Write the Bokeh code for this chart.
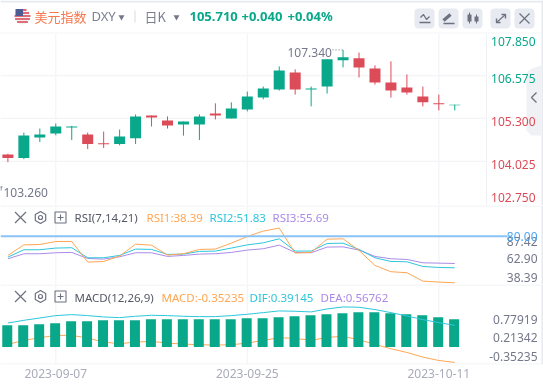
from bokeh.plotting import figure
from bokeh.layouts import column
from bokeh.models import Range1d, FixedTicker, InlineStyleSheet
from bokeh.core.properties import value
from bokeh.embed import file_html
from bokeh.resources import INLINE

dates = ["2023-09-07", "2023-09-25", "2023-10-11"]
date_idx = [3, 15, 27]

opens  = [104.23,104.12,104.73,104.85,105.03,104.82,104.56,104.54,104.71,105.39,105.24,105.12,105.12,105.45,105.30,105.57,105.92,106.16,106.67,106.16,106.25,107.03,107.09,106.79,106.37,106.22,105.95,105.75,105.69]
closes = [104.12,104.79,104.82,105.06,105.06,104.54,104.53,104.76,105.36,105.33,105.09,105.21,105.36,105.39,105.60,105.95,106.19,106.73,106.16,106.19,107.06,107.12,106.82,106.37,106.13,106.07,105.78,105.72,105.71]
highs  = [104.25,104.88,105.00,105.15,105.08,104.88,104.91,104.97,105.42,105.39,105.36,105.21,105.42,105.75,105.78,106.10,106.25,106.85,106.76,106.25,107.06,107.34,107.26,106.88,107.00,106.61,106.25,106.01,105.71]
lows   = [104.00,104.09,104.60,104.80,104.66,104.39,104.42,104.50,104.54,105.06,105.00,104.79,104.66,105.27,105.30,105.51,105.87,106.13,106.01,105.66,106.04,106.82,106.52,106.31,105.92,106.01,105.66,105.54,105.54]

rsi1 = [62.9,72.4,72.7,75.4,75.4,56.9,57.5,62.3,73.0,72.1,63.2,64.4,68.3,68.6,73.9,79.9,84.7,87.42,65.0,65.6,77.5,77.8,67.4,53.9,48.3,47.4,39.9,39.0,38.39]
rsi2 = [61.4,68.0,68.0,69.5,69.8,60.8,60.8,62.9,68.6,68.3,63.8,64.1,66.5,66.8,69.5,72.4,74.2,77.8,66.8,66.8,73.6,73.9,68.3,60.8,57.5,57.2,53.0,52.1,51.83]
rsi3 = [59.9,64.4,64.4,65.3,65.6,60.2,59.6,61.7,65.3,65.3,62.0,62.9,64.1,64.4,65.6,67.7,68.9,72.1,65.6,65.3,70.4,70.6,67.7,62.0,59.9,59.3,56.3,56.0,55.69]

macd_bars = [.500,.500,.523,.546,.592,.592,.615,.615,.615,.638,.638,.638,.638,.638,.638,.662,.662,.685,.708,.731,.754,.777,.800,.800,.777,.754,.731,.685,.638]
macd_cyan = [.554,.615,.669,.723,.746,.723,.692,.677,.708,.731,.723,.708,.700,.700,.723,.754,.792,.831,.823,.808,.877,.923,.915,.862,.792,.715,.631,.562,.500]
macd_orange = [.062,.154,.215,.269,.269,.208,.115,.077,.115,.131,.092,.069,.054,.046,.054,.092,.154,.215,.200,.154,.223,.246,.169,.062,-.038,-.123,-.231,-.308,-.35235]

main_ticks = [107.850, 106.575, 105.300, 104.025, 102.750]
main_tick_py = [41, 78, 121, 164, 197]
rsi_ticks = ["87.42", "62.90", "38.39"]
rsi_tick_py = [241, 257.5, 276.5]
macd_ticks = ["0.77919", "0.21342", "-0.35235"]
macd_tick_py = [318.5, 336.5, 355.5]

GREEN = "#0aa88a"; RED = "#dc4b58"; ORANGE = "#ffa654"; CYAN = "#2fc6dc"; PURPLE = "#ab8be8"
GRID = "#f3f4f8"; GREY = "#74788a"; ICON = "#6d7180"; BTN = "#e7eaf0"; BLUE = "#8ac4f6"
SANS = "Noto Sans"; CJK = "Noto Sans CJK SC"
W = 543
STEP = 15.96
LEG = 11.5

def px(v): return (v - 7.4) / STEP

x_start, x_end = px(0), px(W)

class Pane:
    """A figure whose y range covers the pixel rows py0..py1 of the picture."""
    def __init__(self, py0, py1, y_top, y_bottom, **kw):
        self.py0, self.py1, self.t, self.b = py0, py1, y_top, y_bottom
        self.f = figure(width=W, frame_width=W, frame_height=py1 - py0, output_backend="svg",
                        toolbar_location=None, x_range=Range1d(x_start, x_end),
                        y_range=Range1d(y_bottom, y_top), min_border=0, min_border_left=0,
                        min_border_right=0, min_border_top=0, min_border_bottom=0,
                        outline_line_color=None, background_fill_color="white",
                        border_fill_color="white", **kw)
        self.f.grid.visible = False
        self.f.yaxis.visible = False
    def y(self, py):
        return self.t + (py - self.py0) * (self.b - self.t) / (self.py1 - self.py0)
    def text(self, x, py, s, color=GREY, size=12, align="left", font=SANS, style="normal"):
        self.f.text(x=[px(x)], y=[self.y(py)], text=[s], text_color=color, text_font=value(font),
                    text_font_size=f"{size}px", text_align=align, text_baseline="middle",
                    text_font_style=style)
    def hline(self, x0, x1, py, color=GRID, width=1):
        self.f.segment(x0=[px(x0)], x1=[px(x1)], y0=[self.y(py)], y1=[self.y(py)],
                       line_color=color, line_width=width)
    def vline(self, x, py0, py1, color=GRID, width=1):
        self.f.segment(x0=[px(x)], x1=[px(x)], y0=[self.y(py0)], y1=[self.y(py1)],
                       line_color=color, line_width=width)
    def poly(self, pts, color=ICON, width=1.3):
        self.f.line(x=[px(a) for a, _ in pts], y=[self.y(b) for _, b in pts],
                    line_color=color, line_width=width)
    def box(self, x0, x1, py0, py1, color=BTN, radius=0):
        self.f.quad(left=[px(x0)], right=[px(x1)], top=[self.y(py0)], bottom=[self.y(py1)],
                    fill_color=color, line_color=None, border_radius=radius)
    def right_strip(self):
        self.box(541, 543, self.py0, self.py1, color="#e6e9ee")

idx = list(range(len(opens)))

# ---------------- main pane ----------------
m = Pane(0, 205, 108.81, 102.71)
f = m.f
f.xaxis.visible = False
m.box(0, 543, 0, 2, color="#e6e9ee")
m.right_strip()
m.hline(0, 541, 32.5, color="#f4f5f7", width=1)
for t in main_ticks[1:4]:
    f.segment(x0=[x_start], x1=[px(486)], y0=[t], y1=[t], line_color=GRID, line_width=1.2)
for d in date_idx:
    f.segment(x0=[d], x1=[d], y0=[m.y(33)], y1=[m.y(205)], line_color=GRID, line_width=1.2)
m.vline(486, 33, 205, color="#eff1f5")

wick_colors = [GREEN if c >= o else RED for o, c in zip(opens, closes)]
f.segment(x0=idx, x1=idx, y0=lows, y1=highs, line_color=wick_colors, line_width=1)
f.vbar(x=idx, width=11 / STEP, bottom=[min(a, b) for a, b in zip(opens, closes)],
       top=[max(a, b) for a, b in zip(opens, closes)], fill_color=wick_colors, line_color=None)

# extreme labels
m.text(287, 52, "107.340", size=12)
f.segment(x0=[px(332)], x1=[21], y0=[107.34], y1=[107.34], line_color=GREY, line_width=1, line_dash="1 2")
m.text(3, 191.5, "103.260", size=12)
m.vline(0.5, 186, 190, color=GREY)
m.hline(0, 2, 186.5, color=GREY)

# collapse tab
f.patch(x=[px(a) for a in (541, 541, 531, 526, 526, 531)],
        y=[m.y(b) for b in (65, 135, 135, 130, 72, 68)], fill_color="#eff1f4", line_color=None)
m.poly([(536, 92), (531, 97), (536, 102)], color="#6f7380", width=1.4)

# price scale labels
for t, py in zip(main_ticks, main_tick_py):
    m.text(535, py, f"{t:.3f}", color=GREEN if t > 105.5 else RED, size=12, align="right")

# header
f.scatter(x=[px(22)], y=[m.y(16)], size=16, marker="circle", fill_color="#f2f2f4", line_color=None)
for py, half in [(9.5, 4.0), (12.5, 6.6), (15.5, 8), (18.5, 7.4), (21.5, 5.4)]:
    m.hline(22 - half, 22 + half, py, color="#d8414f", width=1.6)
f.quad(left=[px(15)], right=[px(22.5)], top=[m.y(8.5)], bottom=[m.y(15.5)], fill_color="#4f5b93", line_color=None)
m.text(34, 15.5, "美元指数", color="#f5784e", size=13, font=CJK)
m.text(91, 15.5, "DXY", color="#7c7f90", size=13)
f.scatter(x=[px(121)], y=[m.y(16.5)], size=6, marker="inverted_triangle", fill_color=GREY, line_color=None)
m.vline(134.5, 10, 22, color="#d7dae2")
m.text(144, 15.5, "日K", color="#7c7f90", size=13, font=CJK)
f.scatter(x=[px(176)], y=[m.y(16.5)], size=6, marker="inverted_triangle", fill_color=GREY, line_color=None)
m.text(189, 15.5, "105.710", color=GREEN, size=13, style="bold")
m.text(241, 15.5, "+0.040", color=GREEN, size=13, style="bold")
m.text(287, 15.5, "+0.04%", color=GREEN, size=13, style="bold")

# toolbar buttons
for a, b in [(414, 434), (438, 458), (462, 482), (490, 510), (514, 534)]:
    m.box(a, b, 8, 28, radius=4)
m.poly([(420, 17), (423, 14), (426, 19), (429, 16)], width=1.3)
m.poly([(419, 22), (430, 22)], width=1.4)
m.poly([(443, 20), (450, 14)], width=3.2)
m.poly([(443, 23), (454, 23)], width=1.4)
m.box(467, 471, 14, 21, color=ICON); m.vline(469, 12, 23, color=ICON)
m.box(474, 478, 16, 21, color=ICON); m.vline(476, 14, 23, color=ICON)
m.poly([(496, 22), (505, 14)], width=1.2)
m.poly([(501, 14), (505, 14), (505, 18)], width=1.4)
m.poly([(496, 18), (496, 22), (500, 22)], width=1.4)
m.poly([(519, 13), (529, 23)], width=1.2)
m.poly([(529, 13), (519, 23)], width=1.2)

def pane_icons(pane, py):
    pane.poly([(14.5, py - 5.5), (25.5, py + 5.5)], width=1.2)
    pane.poly([(25.5, py - 5.5), (14.5, py + 5.5)], width=1.2)
    pane.f.scatter(x=[px(40)], y=[pane.y(py)], size=12, marker="hex", angle=0.5236, fill_color=None,
                   line_color=ICON, line_width=1.2)
    pane.f.scatter(x=[px(40)], y=[pane.y(py)], size=4, marker="circle", fill_color=None,
                   line_color=ICON, line_width=1.2)
    pane.f.scatter(x=[px(60)], y=[pane.y(py)], size=11, marker="square", fill_color=None,
                   line_color=ICON, line_width=1.1)
    pane.poly([(57, py), (63, py)], width=1.1)
    pane.poly([(60, py - 3), (60, py + 3)], width=1.1)

# ---------------- RSI pane ----------------
r = Pane(205, 284, 107.65, 36.85)
f = r.f
f.xaxis.visible = False
r.right_strip()
r.hline(0, 541, 205.5, color="#eef0f4")
for d in date_idx:
    f.segment(x0=[d], x1=[d], y0=[r.y(205)], y1=[r.y(284)], line_color=GRID, line_width=1.2)
f.line(idx, rsi3, line_color=PURPLE, line_width=1)
f.line(idx, rsi2, line_color=CYAN, line_width=1)
f.line(idx, rsi1, line_color=ORANGE, line_width=1)
f.segment(x0=[x_start], x1=[px(507)], y0=[80], y1=[80], line_color=BLUE, line_width=2)
pane_icons(r, 217)
r.text(74, 217, "RSI(7,14,21)", color="#555866", size=LEG)
r.text(146, 217, "RSI1:38.39", color=ORANGE, size=LEG)
r.text(209, 217, "RSI2:51.83", color=CYAN, size=LEG)
r.text(272, 217, "RSI3:55.69", color=PURPLE, size=LEG)
for s, py in zip(rsi_ticks, rsi_tick_py):
    r.text(537, py, s, align="right")
r.text(537, 236, "80.00", color="#4ea5f2", align="right")

# ---------------- MACD pane ----------------
c = Pane(284, 364, 1.438, -0.40)
f = c.f
c.right_strip()
c.hline(0, 541, 284.5, color="#eef0f4")
c.hline(0, 541, 363.5, color="#eef0f4")
for d in date_idx:
    f.segment(x0=[d], x1=[d], y0=[c.y(284)], y1=[c.y(364)], line_color=GRID, line_width=1.2)
f.line(idx, macd_orange, line_color=ORANGE, line_width=1)
f.vbar(x=[i - 0.04 for i in idx], width=10 / STEP, bottom=0, top=macd_bars, fill_color=GREEN, line_color=None)
f.line(idx, macd_cyan, line_color=CYAN, line_width=1)
pane_icons(c, 296)
c.text(74, 296.5, "MACD(12,26,9)", color="#555866", size=LEG)
c.text(161, 296.5, "MACD:-0.35235", color=ORANGE, size=LEG)
c.text(249, 296.5, "DIF:0.39145", color=CYAN, size=LEG)
c.text(320, 296.5, "DEA:0.56762", color=PURPLE, size=LEG)
for s, py in zip(macd_ticks, macd_tick_py):
    c.text(537, py, s, align="right")

ax = f.xaxis[0]
ax.ticker = FixedTicker(ticks=date_idx)
ax.major_label_overrides = dict(zip(date_idx, dates))
ax.axis_line_color = None
ax.major_tick_line_color = None
ax.minor_tick_line_color = None
ax.major_label_text_color = "#a9acb9"
ax.major_label_text_font = SANS
ax.major_label_text_font_size = "12px"
ax.major_label_standoff = -2

page = column(m.f, r.f, c.f, spacing=0,
              stylesheets=[InlineStyleSheet(css=":host{position:fixed;left:0;top:0;}")])
open("out.html", "w").write(file_html(page, INLINE))
